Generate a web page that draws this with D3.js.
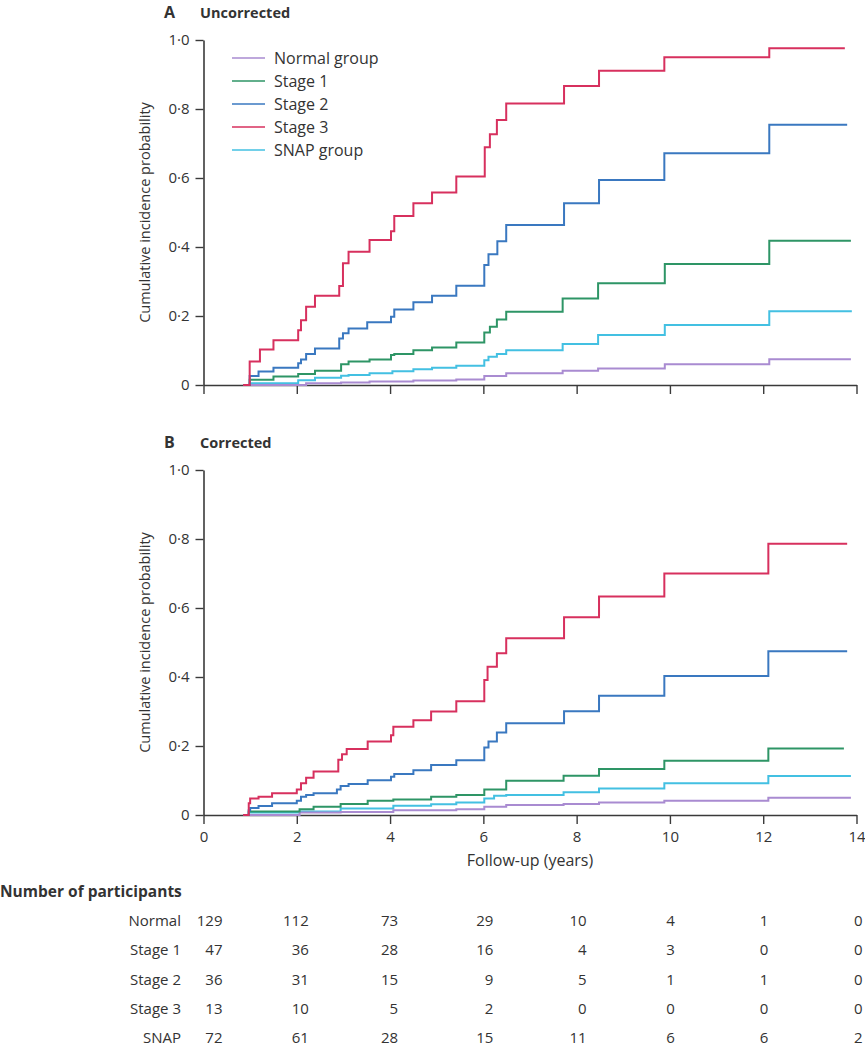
<!DOCTYPE html>
<html><head><meta charset="utf-8">
<script src="https://cdn.jsdelivr.net/npm/d3@7"></script>
<style>
html,body{margin:0;padding:0;background:#fff;}
text{font-family:"Open Sans","Noto Sans",sans-serif;fill:#333;}
</style></head>
<body>
<script>
// ---------- DATA ----------
const seriesNames = ["Normal group","Stage 1","Stage 2","Stage 3","SNAP group"];
const xTicks = [0,2,4,6,8,10,12,14];
const yTicks = [0,0.2,0.4,0.6,0.8,1.0];

// Panel A (uncorrected): [time (years), cumulative incidence]
const normalA = [[0.85,0],[2.2,0.005],[2.95,0.007],[3.56,0.01],[4.5,0.013],[5.42,0.016],[6.02,0.026],[6.49,0.034],[7.7,0.041],[8.46,0.048],[9.89,0.06],[12.13,0.075],[13.88,0.075]];
const stage1A = [[0.85,0],[0.99,0.015],[1.5,0.025],[2.03,0.032],[2.39,0.041],[2.95,0.06],[3.11,0.068],[3.56,0.074],[4.02,0.087],[4.09,0.09],[4.5,0.101],[4.9,0.109],[5.42,0.123],[6.02,0.152],[6.14,0.169],[6.29,0.19],[6.49,0.212],[7.7,0.251],[8.46,0.295],[9.89,0.351],[12.13,0.418],[13.88,0.418]];
const stage2A = [[0.85,0],[0.99,0.026],[1.18,0.039],[1.5,0.05],[2.03,0.063],[2.09,0.074],[2.2,0.09],[2.39,0.106],[2.91,0.135],[2.99,0.15],[3.11,0.164],[3.51,0.182],[4.02,0.198],[4.09,0.219],[4.5,0.24],[4.9,0.259],[5.42,0.288],[6.02,0.348],[6.11,0.379],[6.3,0.417],[6.49,0.464],[7.73,0.527],[8.48,0.594],[9.88,0.672],[12.13,0.754],[13.8,0.754]];
const stage3A = [[0.85,0],[0.99,0.068],[1.21,0.103],[1.5,0.13],[2.03,0.159],[2.09,0.188],[2.2,0.227],[2.39,0.259],[2.91,0.287],[2.99,0.353],[3.11,0.386],[3.56,0.42],[4.02,0.446],[4.09,0.49],[4.5,0.527],[4.9,0.558],[5.42,0.604],[6.03,0.689],[6.14,0.727],[6.29,0.768],[6.49,0.816],[7.73,0.867],[8.48,0.911],[9.88,0.95],[12.13,0.976],[13.75,0.976]];
const snapA = [[0.85,0],[0.99,0.005],[2.03,0.014],[2.39,0.021],[2.95,0.027],[3.11,0.029],[3.56,0.034],[4.05,0.04],[4.5,0.046],[4.9,0.05],[5.42,0.056],[6.02,0.072],[6.11,0.082],[6.29,0.09],[6.49,0.101],[7.7,0.119],[8.46,0.145],[9.89,0.174],[12.13,0.214],[13.9,0.214]];

// Panel B (corrected)
const normalB = [[0.85,0],[2.06,0.007],[2.94,0.009],[4.07,0.014],[5.42,0.017],[6.02,0.024],[6.49,0.029],[7.72,0.032],[8.48,0.036],[9.88,0.041],[12.11,0.05],[13.88,0.05]];
const stage1B = [[0.85,0],[0.97,0.01],[2.06,0.017],[2.36,0.024],[2.94,0.032],[3.52,0.041],[4.07,0.045],[4.88,0.053],[5.42,0.058],[6.02,0.074],[6.49,0.099],[7.72,0.114],[8.48,0.133],[9.88,0.157],[12.11,0.193],[13.73,0.193]];
const stage2B = [[0.85,0],[0.97,0.014],[1.0,0.02],[1.18,0.026],[1.47,0.034],[2.0,0.041],[2.09,0.053],[2.2,0.058],[2.36,0.063],[2.86,0.074],[2.94,0.084],[3.11,0.09],[3.52,0.101],[4.02,0.111],[4.09,0.119],[4.5,0.13],[4.88,0.145],[5.42,0.159],[6.02,0.196],[6.11,0.213],[6.29,0.239],[6.49,0.266],[7.73,0.301],[8.48,0.346],[9.88,0.403],[12.11,0.475],[13.8,0.475]];
const stage3B = [[0.85,0],[0.97,0.034],[1.0,0.048],[1.18,0.053],[1.47,0.063],[2.0,0.074],[2.09,0.092],[2.2,0.108],[2.36,0.126],[2.89,0.16],[2.97,0.176],[3.07,0.191],[3.52,0.213],[4.02,0.231],[4.07,0.256],[4.5,0.275],[4.88,0.3],[5.42,0.33],[6.02,0.391],[6.09,0.43],[6.29,0.469],[6.49,0.512],[7.73,0.573],[8.48,0.633],[9.88,0.7],[12.11,0.786],[13.8,0.786]];
const snapB = [[0.85,0],[0.97,0.007],[2.06,0.01],[2.94,0.019],[4.07,0.027],[4.88,0.031],[5.42,0.036],[6.02,0.048],[6.23,0.056],[6.49,0.058],[7.72,0.066],[8.48,0.077],[9.88,0.092],[12.11,0.113],[13.88,0.113]];

// Number at risk table
const riskTimes = [0,2,4,6,8,10,12,14];
const riskLabels = ["Normal","Stage 1","Stage 2","Stage 3","SNAP"];
const riskNormal = [129,112,73,29,10,4,1,0];
const riskStage1 = [47,36,28,16,4,3,0,0];
const riskStage2 = [36,31,15,9,5,1,1,0];
const riskStage3 = [13,10,5,2,0,0,0,0];
const riskSnap   = [72,61,28,15,11,6,6,2];

// ---------- LAYOUT / STYLE ----------
const colors = ["#a98bd1","#2e9566","#3a78c0","#d7305e","#43c0e2"];
const W = 865, H = 1050;
const svg = d3.select("body").append("svg").attr("width",W).attr("height",H);

const x = d3.scaleLinear().domain([0,14]).range([203.5,856.5]);
const panels = [
  {letter:"A", title:"Uncorrected", top:40, bottom:385, data:[normalA,stage1A,stage2A,stage3A,snapA], labels:false, legend:true},
  {letter:"B", title:"Corrected", top:470, bottom:815, data:[normalB,stage1B,stage2B,stage3B,snapB], labels:true, legend:false}
];
const fmt = d => d===0 ? "0" : d3.format(".1f")(d).replace(".","·");

panels.forEach(p => {
  const y = d3.scaleLinear().domain([0,1]).range([p.bottom,p.top]);
  const g = svg.append("g");
  // titles
  g.append("text").attr("x",164).attr("y",p.top-22).attr("font-size",16).attr("font-weight","bold").text(p.letter);
  g.append("text").attr("x",200).attr("y",p.top-22).attr("font-size",14.5).attr("font-weight","bold").text(p.title);

  // y axis
  const ya = g.append("g").attr("transform",`translate(${x(0)},0)`)
    .call(d3.axisLeft(y).tickValues(yTicks).tickFormat(fmt).tickSize(8).tickPadding(6).tickSizeOuter(0));
  // x axis
  const xa = g.append("g").attr("transform",`translate(0,${p.bottom})`)
    .call(d3.axisBottom(x).tickValues(xTicks).tickFormat(p.labels ? d3.format("d") : "").tickSize(9).tickPadding(7).tickSizeOuter(0));
  [ya,xa].forEach(a => {
    a.select(".domain").attr("stroke","#3a3a3a").attr("stroke-width",1.6);
    a.selectAll(".tick line").attr("stroke","#3a3a3a").attr("stroke-width",1.4);
    a.selectAll(".tick text").attr("font-size",15).attr("fill","#333").attr("font-family",'"Open Sans","Noto Sans",sans-serif');
  });
  // y axis label
  g.append("text").attr("transform",`translate(150,${(p.top+p.bottom)/2}) rotate(-90)`)
    .attr("text-anchor","middle").attr("font-size",14.5).text("Cumulative incidence probability");

  // curves
  const line = d3.line().x(d=>x(d[0])).y(d=>y(d[1])).curve(d3.curveStepAfter);
  const order = [4,0,1,2,3];
  order.forEach(i => {
    g.append("path").datum(p.data[i]).attr("d",line).attr("fill","none")
      .attr("stroke",colors[i]).attr("stroke-width",2).attr("stroke-linejoin","miter");
  });

  if (p.labels) {
    g.append("text").attr("x",x(7)).attr("y",p.bottom+51).attr("text-anchor","middle").attr("font-size",16).text("Follow-up (years)");
  }
  if (p.legend) {
    const lg = g.append("g");
    seriesNames.forEach((n,i) => {
      const yy = 58 + i*23;
      lg.append("line").attr("x1",232).attr("x2",265).attr("y1",yy).attr("y2",yy).attr("stroke",colors[i]).attr("stroke-width",1.6);
      lg.append("text").attr("x",274).attr("y",yy+5.5).attr("font-size",16).text(n);
    });
  }
});

// risk table
svg.append("text").attr("x",0).attr("y",897).attr("font-size",15.5).attr("font-weight","bold").text("Number of participants");
const riskRows = [riskNormal,riskStage1,riskStage2,riskStage3,riskSnap];
const colOffset = [19,12,8,10,10,5,5,6];
riskRows.forEach((row,r) => {
  const yy = 926 + r*29.3;
  svg.append("text").attr("x",181).attr("y",yy).attr("text-anchor","end").attr("font-size",15).text(riskLabels[r]);
  row.forEach((v,c) => {
    svg.append("text").attr("x",x(riskTimes[c])+colOffset[c]).attr("y",yy).attr("text-anchor","end").attr("font-size",15).text(v);
  });
});
</script>
</body></html>
